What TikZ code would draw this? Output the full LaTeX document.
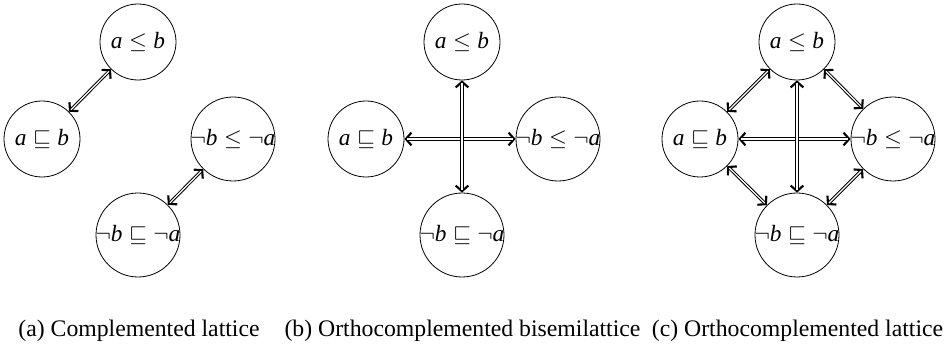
\documentclass[tikz,border=0pt]{standalone}
\usepackage{fontspec}
\setmainfont{Liberation Serif}
\usetikzlibrary{arrows.meta}
\newcommand{\lblbox}[1]{\makebox[0pt]{\fontsize{17.5}{17.5}\selectfont$#1$}}
\newcommand{\va}{\textit{a}}
\newcommand{\vb}{\textit{b}}
\tikzset{
  circ/.style={circle, draw, line width=0.6pt, inner sep=0pt, minimum size=57pt},
  bigcirc/.style={circ, minimum size=63pt},
  barbtip/.tip={Straight Barb[length=4.2pt,width=9.5pt,line width=1.6pt]},
  dbl/.style={line width=2.4pt, barbtip-barbtip,
    postaction={draw=white, line width=0.9pt, -, shorten >=2.2pt, shorten <=2.2pt}},
  captext/.style={anchor=base, font=\fontsize{17.8}{20}\selectfont, inner sep=0pt}
}
\begin{document}
\begin{tikzpicture}[x=0.75pt,y=-0.75pt]
\useasboundingbox (0,0) rectangle (946,345);
% (a)
\node[circ] (at) at (138,42) {\lblbox{\va\leq\vb}};
\node[circ] (al) at (42,139) {\lblbox{\va\sqsubseteq\vb}};
\node[bigcirc] (ar) at (233,139) {\lblbox{\neg\vb\leq\neg\va}};
\node[bigcirc] (ab) at (138,235) {\lblbox{\neg\vb\sqsubseteq\neg\va}};
\draw[dbl] (al) -- (at);
\draw[dbl] (ab) -- (ar);
\node[captext] (capa) at (139,336) {(a) Complemented lattice};
% (b)
\node[circ] (bt) at (462,42) {\lblbox{\va\leq\vb}};
\node[circ] (bl) at (366,139) {\lblbox{\va\sqsubseteq\vb}};
\node[bigcirc] (br) at (558,139) {\lblbox{\neg\vb\leq\neg\va}};
\node[bigcirc] (bb) at (462,235) {\lblbox{\neg\vb\sqsubseteq\neg\va}};
\draw[dbl] (bl) -- (br);
\draw[dbl] (bt) -- (bb);
\node[captext] (capb) at (462.5,336) {(b) Orthocomplemented bisemilattice};
% (c)
\node[circ] (ct) at (797,42) {\lblbox{\va\leq\vb}};
\node[circ] (cl) at (700,139) {\lblbox{\va\sqsubseteq\vb}};
\node[bigcirc] (cr) at (893,139) {\lblbox{\neg\vb\leq\neg\va}};
\node[bigcirc] (cb) at (797,235) {\lblbox{\neg\vb\sqsubseteq\neg\va}};
\draw[dbl] (cl) -- (cr);
\draw[dbl] (ct) -- (cb);
\draw[dbl] (cl) -- (ct);
\draw[dbl] (ct) -- (cr);
\draw[dbl] (cl) -- (cb);
\draw[dbl] (cb) -- (cr);
\node[captext] (capc) at (797.5,336) {(c) Orthocomplemented lattice};
\end{tikzpicture}
\end{document}
